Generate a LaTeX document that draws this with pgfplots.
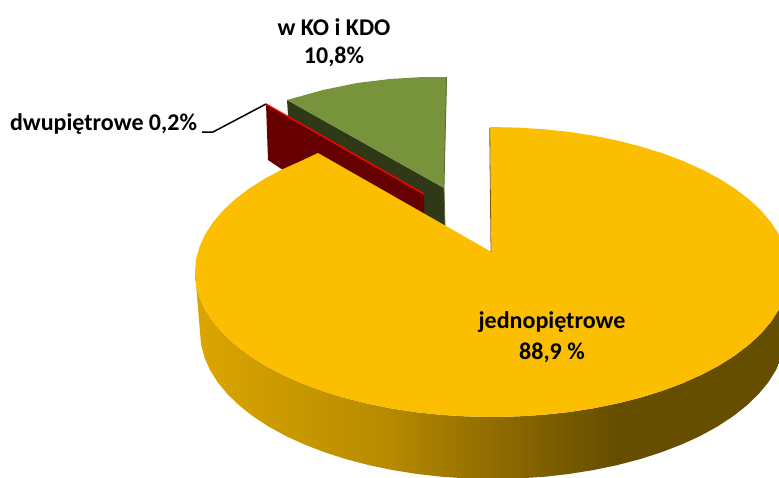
\documentclass[border=0pt]{standalone}
\usepackage{pgfplots}
\pgfplotsset{compat=1.18}
\usepackage{fontspec}
\setmainfont{Carlito}
\definecolor{pieyellow}{HTML}{FBBE00}
\definecolor{piegreen}{HTML}{77933C}
\definecolor{piegreendark}{HTML}{2F3817}
\definecolor{piered}{HTML}{660000}
\definecolor{w0}{HTML}{DCA600}
\definecolor{w1}{HTML}{CB9A00}
\definecolor{w2}{HTML}{B98C00}
\definecolor{w3}{HTML}{957000}
\definecolor{w4}{HTML}{7A5C00}
\definecolor{w5}{HTML}{664E00}
\pgfdeclarehorizontalshading{wallshade}{100bp}{color(0bp)=(w0); color(25bp)=(w0); color(32bp)=(w1); color(40.5bp)=(w2); color(49bp)=(w3); color(55.5bp)=(w4); color(60.5bp)=(w5); color(100bp)=(w5)}
\tikzset{lbl/.style={font=\fontsize{24}{28}\selectfont\bfseries, text=black, inner sep=0pt}}
\begin{document}
\begin{tikzpicture}
\path[use as bounding box] (0,0) rectangle (779pt,477pt);
\begin{axis}[
  at={(0,0)}, anchor=south west,
  hide axis, scale only axis, width=779pt, height=477pt,
  xmin=0, xmax=779, ymin=0, ymax=477, y dir=reverse,
  enlargelimits=false, clip=true
]
% green slice
\addplot[fill=piegreendark, draw=none] coordinates {(287,100) (444,188) (445,226) (290,145)} -- cycle;
\addplot[fill=piegreen, draw=none] coordinates {(287,100) (323,90) (357,83) (390,79) (423,77) (447,77) (444,188)} -- cycle;
\addplot[draw=piegreen!75!black, line width=0.8pt] coordinates {(446.5,77) (444,188) (445,226)};
% red slice
\addplot[fill=piered, draw=none] coordinates {(266,104) (424,194) (424,215) (300,180) (280,168) (268,160)} -- cycle;
\addplot[draw=red, line width=1.4pt] coordinates {(266,104) (424,194)};
% yellow wall
\addplot[draw=none, shade, shading=wallshade] coordinates {
(789,272) (787.9,284.6) (784.5,297.2) (778.9,309.5) (771.1,321.6) (761.2,333.3) (749.2,344.5) (735.3,355.2) (719.5,365.2) (702,374.5) (682.9,383.1) (662.4,390.8) (640.5,397.6) (617.5,403.4) (593.6,408.3) (568.9,412.1) (543.6,414.8) (517.9,416.4) (492,417) (466.1,416.4) (440.4,414.8) (415.1,412.1) (390.4,408.3) (366.5,403.4) (343.5,397.6) (321.6,390.8) (301.1,383.1) (282,374.5) (264.5,365.2) (248.7,355.2) (234.8,344.5) (222.8,333.3) (212.9,321.6) (205.1,309.5) (199.5,297.2) (196.1,284.6) (195,272)
(200,332) (201.1,344.8) (204.5,357.5) (210,370) (217.7,382.3) (227.5,394.1) (239.3,405.5) (253,416.3) (268.6,426.5) (285.8,436) (304.7,444.6) (325,452.4) (346.5,459.3) (369.2,465.2) (392.8,470.1) (417.2,474) (442.1,476.8) (467.5,478.4) (493,479) (518.5,478.4) (543.9,476.8) (568.8,474) (593.2,470.1) (616.8,465.2) (639.5,459.3) (661,452.4) (681.3,444.6) (700.2,436) (717.4,426.5) (733,416.3) (746.7,405.5) (758.5,394.1) (768.3,382.3) (776,370) (781.5,357.5) (784.9,344.8) (786,332)
} -- cycle;
% yellow top
\addplot[fill=pieyellow, draw=none] coordinates {
(491.5,252) (490,127) (517.9,127.6) (543.6,129.2) (568.9,131.9) (593.6,135.7) (617.5,140.6) (640.5,146.4) (662.4,153.2) (682.9,160.9) (702,169.5) (719.5,178.8) (735.3,188.8) (749.2,199.5) (761.2,210.7) (771.1,222.4) (778.9,234.5) (784.5,246.8) (787.9,259.4) (789,272) (787.9,284.6) (784.5,297.2) (778.9,309.5) (771.1,321.6) (761.2,333.3) (749.2,344.5) (735.3,355.2) (719.5,365.2) (702,374.5) (682.9,383.1) (662.4,390.8) (640.5,397.6) (617.5,403.4) (593.6,408.3) (568.9,412.1) (543.6,414.8) (517.9,416.4) (492,417) (466.1,416.4) (440.4,414.8) (415.1,412.1) (390.4,408.3) (366.5,403.4) (343.5,397.6) (321.6,390.8) (301.1,383.1) (282,374.5) (264.5,365.2) (248.7,355.2) (234.8,344.5) (222.8,333.3) (212.9,321.6) (205.1,309.5) (199.5,297.2) (196.1,284.6) (195,272) (196.1,259.4) (199.5,246.8) (205.1,234.5) (212.9,222.4) (222.8,210.7) (234.8,199.5) (248.7,188.8) (264.5,178.8) (282,169.5) (301.1,160.9) (318,153)
} -- cycle;
\addplot[draw=w4, line width=0.8pt] coordinates {(489.7,128) (491,252)};
% leader line
\addplot[draw=black, line width=1.5pt] coordinates {(202,132) (213,132) (266,104)};
% labels
\node[lbl] at (axis cs:334,27) {w KO i KDO};
\node[lbl] at (axis cs:334,57) {10,8\%};
\node[lbl] at (axis cs:103.5,124) {dwupiętrowe 0,2\%};
\node[lbl] at (axis cs:552,322) {jednopiętrowe};
\node[lbl] at (axis cs:552,353) {88,9 \%};
\end{axis}
\end{tikzpicture}
\end{document}
